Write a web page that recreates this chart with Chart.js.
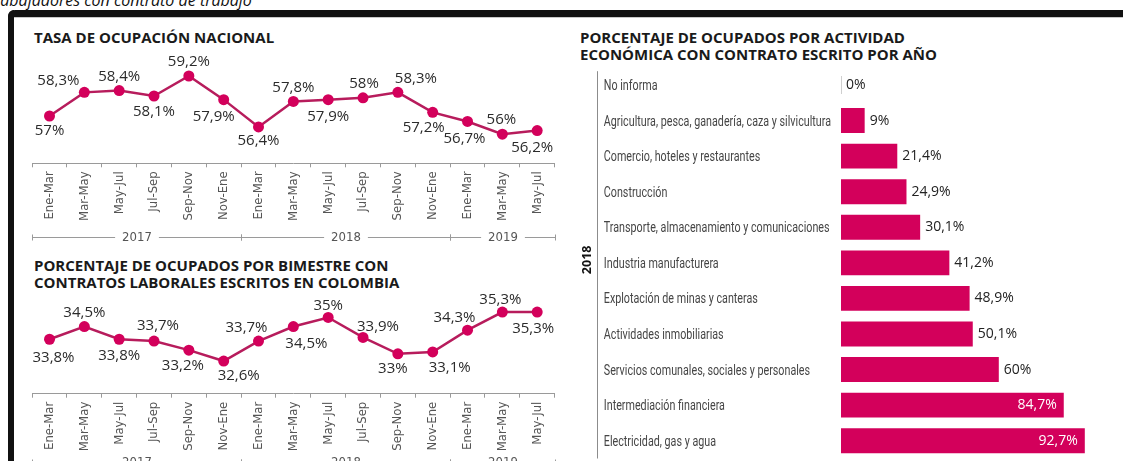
<!DOCTYPE html>
<html lang="es">
<head>
<meta charset="utf-8">
<title>Ocupación y contratos escritos</title>
<script src="https://cdn.jsdelivr.net/npm/chart.js@4.4.1/dist/chart.umd.min.js"></script>
<style>
  html, body { margin: 0; padding: 0; background: #fff; overflow: hidden; width: 1123px; height: 461px; }
  body { position: relative; font-family: "Open Sans", sans-serif; }
  .nota { position: absolute; left: -14px; top: -8px; font: italic 16px/16px "Open Sans"; color: #111; white-space: nowrap; }
  .barra-sup { position: absolute; left: 8px; top: 10px; width: 1115px; height: 7px; background: #111; border-top-left-radius: 7px; }
  .barra-izq { position: absolute; left: 8px; top: 10px; width: 6px; height: 451px; background: #111; border-top-left-radius: 7px; }
  .filete { position: absolute; left: 14px; top: 17px; width: 1109px; height: 1px; background: #c8c8c8; }
  .titulo { position: absolute; font: 700 15px/17px "Open Sans"; color: #1a1a1a; white-space: nowrap; }
  .caja { position: absolute; }
</style>
</head>
<body>
<div class="nota">Trabajadores con contrato de trabajo</div>
<div class="barra-sup"></div>
<div class="barra-izq"></div>
<div class="filete"></div>

<div class="titulo" style="left:34px; top:29px;">TASA DE OCUPACIÓN NACIONAL</div>
<div class="titulo" style="left:34px; top:257px;">PORCENTAJE DE OCUPADOS POR BIMESTRE CON<br>CONTRATOS LABORALES ESCRITOS EN COLOMBIA</div>
<div class="titulo" style="left:580px; top:29px;">PORCENTAJE DE OCUPADOS POR ACTIVIDAD<br>ECONÓMICA CON CONTRATO ESCRITO POR AÑO</div>

<div class="caja" style="left:0; top:40px; width:565px; height:230px;"><canvas id="tasa"></canvas></div>
<div class="caja" style="left:0; top:280px; width:565px; height:230px;"><canvas id="contrato"></canvas></div>
<div class="caja" style="left:560px; top:60px; width:563px; height:420px;"><canvas id="actividad"></canvas></div>

<script>
// datos
const periodos = ["Ene-Mar", "Mar-May", "May-Jul", "Jul-Sep", "Sep-Nov", "Nov-Ene",
                  "Ene-Mar", "Mar-May", "May-Jul", "Jul-Sep", "Sep-Nov", "Nov-Ene",
                  "Ene-Mar", "Mar-May", "May-Jul"];
const anios = ["2017", "2018", "2019"];
const periodosPorAnio = [6, 6, 3];
const tasaOcupacion = [57, 58.3, 58.4, 58.1, 59.2, 57.9, 56.4, 57.8, 57.9, 58, 58.3, 57.2, 56.7, 56, 56.2];
const contratoEscrito = [33.8, 34.5, 33.8, 33.7, 33.2, 32.6, 33.7, 34.5, 35, 33.9, 33, 33.1, 34.3, 35.3, 35.3];
const actividades = ["No informa", "Agricultura, pesca, ganadería, caza y silvicultura",
  "Comercio, hoteles y restaurantes", "Construcción", "Transporte, almacenamiento y comunicaciones",
  "Industria manufacturera", "Explotación de minas y canteras", "Actividades inmobiliarias",
  "Servicios comunales, sociales y personales", "Intermediación financiera", "Electricidad, gas y agua"];
const actividadPct = [0, 9, 21.4, 24.9, 30.1, 41.2, 48.9, 50.1, 60, 84.7, 92.7];
const anioActividad = "2018";

// donde va cada etiqueta respecto a su punto [dx, dy]
const posTasa = [[0, 15], [-26, -12], [0, -14], [0, 16], [0, -14], [-10, 17], [0, 14], [0, -14],
                 [0, 17], [1, -14], [18, -14], [-9, 15], [-3, 17], [-1, -14], [-5, 17]];
const posContrato = [[4, 18], [0, -14], [0, 16], [4, -15], [-6, 16], [15, 15], [-12, -13], [13, 17],
                     [0, -12], [15, -11], [-5, 15], [17, 16], [-13, -12], [-2, -12], [-4, 17]];

const magenta = "#d3005b";
const linea = "#b71c5c";
const gris = "#9a9a9a";
const estrecha = '"Liberation Sans Narrow", "DejaVu Sans Condensed", sans-serif';

const pct = v => String(v).replace(".", ",") + "%";

function etiquetasPuntos(pos) {
  return {
    id: "etiquetasPuntos",
    afterDatasetsDraw(chart) {
      const ctx = chart.ctx;
      const vals = chart.data.datasets[0].data;
      ctx.save();
      ctx.font = '15px "Open Sans"';
      ctx.fillStyle = "#2b2b2b";
      ctx.textAlign = "center";
      ctx.textBaseline = "middle";
      chart.getDatasetMeta(0).data.forEach((pt, i) => {
        ctx.fillText(pct(vals[i]), pt.x + pos[i][0], pt.y + pos[i][1]);
      });
      ctx.restore();
    }
  };
}

function llavesAnios(offset) {
  return {
    id: "llavesAnios",
    afterDraw(chart) {
      const sx = chart.scales.x, ctx = chart.ctx;
      const half = (sx.getPixelForValue(1) - sx.getPixelForValue(0)) / 2;
      const y = Math.round(chart.chartArea.bottom + offset) + 0.5;
      ctx.save();
      ctx.strokeStyle = gris;
      ctx.lineWidth = 1;
      ctx.fillStyle = "#555";
      ctx.font = "13px " + estrecha;
      ctx.textAlign = "center";
      ctx.textBaseline = "middle";
      let inicio = 0;
      anios.forEach((a, k) => {
        const fin = inicio + periodosPorAnio[k] - 1;
        const x0 = Math.round(sx.getPixelForValue(inicio) - half) + 0.5;
        const x1 = Math.round(sx.getPixelForValue(fin) + half) + 0.5;
        const mid = (x0 + x1) / 2;
        const w = ctx.measureText(a).width / 2 + 7;
        ctx.beginPath();
        ctx.moveTo(x0, y); ctx.lineTo(mid - w, y);
        ctx.moveTo(mid + w, y); ctx.lineTo(x1, y);
        ctx.moveTo(x0, y - 3); ctx.lineTo(x0, y + 3);
        ctx.moveTo(x1, y - 3); ctx.lineTo(x1, y + 3);
        ctx.stroke();
        ctx.fillText(a, mid, y);
        inicio = fin + 1;
      });
      ctx.restore();
    }
  };
}

function graficoLinea(id, valores, yMin, yMax, padding, pos, offsetAnios) {
  return new Chart(document.getElementById(id), {
    type: "line",
    data: {
      labels: periodos,
      datasets: [{
        data: valores,
        borderColor: linea,
        borderWidth: 2.5,
        pointRadius: 5.5,
        pointBackgroundColor: magenta,
        pointBorderWidth: 0,
        tension: 0,
        clip: false
      }]
    },
    options: {
      responsive: true,
      maintainAspectRatio: false,
      animation: false,
      layout: { padding: padding },
      plugins: { legend: { display: false }, tooltip: { enabled: false } },
      scales: {
        x: {
          offset: true,
          grid: { offset: true, drawOnChartArea: false, tickLength: 4, color: gris },
          border: { color: gris },
          ticks: { minRotation: 90, maxRotation: 90, padding: 4, color: "#555", font: { family: estrecha, size: 13 } },
          afterFit: s => { s.height = 70; }
        },
        y: { display: false, min: yMin, max: yMax }
      }
    },
    plugins: [etiquetasPuntos(pos), llavesAnios(offsetAnios)]
  });
}

graficoLinea("tasa", tasaOcupacion, 54.4, 60.2,
  { left: 32.1, right: 10.4, top: 17.8, bottom: 36.7 }, posTasa, 74);
graficoLinea("contrato", contratoEscrito, 30.8, 36.2,
  { left: 32.1, right: 10.4, top: 15.7, bottom: 46.3 }, posContrato, 68);

const etiquetasBarras = {
  id: "etiquetasBarras",
  afterDatasetsDraw(chart) {
    const ctx = chart.ctx, area = chart.chartArea;
    const vals = chart.data.datasets[0].data;
    ctx.save();
    ctx.font = '14px "Open Sans"';
    ctx.textBaseline = "middle";
    chart.getDatasetMeta(0).data.forEach((bar, i) => {
      const txt = pct(vals[i]);
      const w = ctx.measureText(txt).width;
      if (vals[i] === 0) {
        ctx.strokeStyle = "#cfcfcf";
        ctx.lineWidth = 1;
        ctx.beginPath();
        ctx.moveTo(Math.round(bar.base) + 0.5, bar.y - 9);
        ctx.lineTo(Math.round(bar.base) + 0.5, bar.y + 9);
        ctx.stroke();
      }
      if (bar.x + 5 + w <= area.right) {
        ctx.fillStyle = "#222";
        ctx.textAlign = "left";
        ctx.fillText(txt, bar.x + 5, bar.y);
      } else {
        ctx.fillStyle = "#fff";
        ctx.textAlign = "right";
        ctx.fillText(txt, bar.x - 7, bar.y);
      }
    });
    ctx.restore();
  }
};

// etiquetas de categoría estrechas, el año en vertical y la línea que los separa
const ejeAnio = {
  id: "ejeAnio",
  afterDraw(chart) {
    const s = chart.scales.y, a = chart.chartArea, ctx = chart.ctx;
    ctx.save();
    ctx.font = '14px Roboto';
    ctx.fillStyle = "#454545";
    ctx.textAlign = "left";
    ctx.textBaseline = "middle";
    const maxW = Math.max(...actividades.map(t => ctx.measureText(t).width));
    const k = Math.min(1, (a.left - s.left - 10) / maxW);
    actividades.forEach((t, i) => {
      ctx.save();
      ctx.translate(s.left, s.getPixelForValue(i) + 1.5);
      ctx.scale(k, 1);
      ctx.fillText(t, 0, 0);
      ctx.restore();
    });

    const lx = Math.round(s.left - 7) + 0.5;
    ctx.strokeStyle = "#8c8c8c";
    ctx.lineWidth = 1;
    ctx.beginPath();
    ctx.moveTo(lx, a.top + 4);
    ctx.lineTo(lx, a.bottom);
    ctx.stroke();
    ctx.translate(s.left - 16, (a.top + a.bottom) / 2 - 3);
    ctx.rotate(-Math.PI / 2);
    ctx.font = 'bold 12.5px "Open Sans"';
    ctx.fillStyle = "#111";
    ctx.textAlign = "center";
    ctx.fillText(anioActividad, 0, 0);
    ctx.restore();
  }
};

new Chart(document.getElementById("actividad"), {
  type: "bar",
  data: {
    labels: actividades,
    datasets: [{ data: actividadPct, backgroundColor: magenta, barPercentage: 0.7, categoryPercentage: 1 }]
  },
  options: {
    indexAxis: "y",
    responsive: true,
    maintainAspectRatio: false,
    animation: false,
    layout: { padding: { left: 43.8, right: 19, top: 7.2, bottom: 21.5 } },
    plugins: { legend: { display: false }, tooltip: { enabled: false } },
    scales: {
      x: { display: false, min: 0, max: 100 },
      y: {
        grid: { display: false },
        border: { display: false },
        ticks: { display: false },
        afterFit: s => { s.width = 237.2; }
      }
    }
  },
  plugins: [etiquetasBarras, ejeAnio]
});
</script>
</body>
</html>
